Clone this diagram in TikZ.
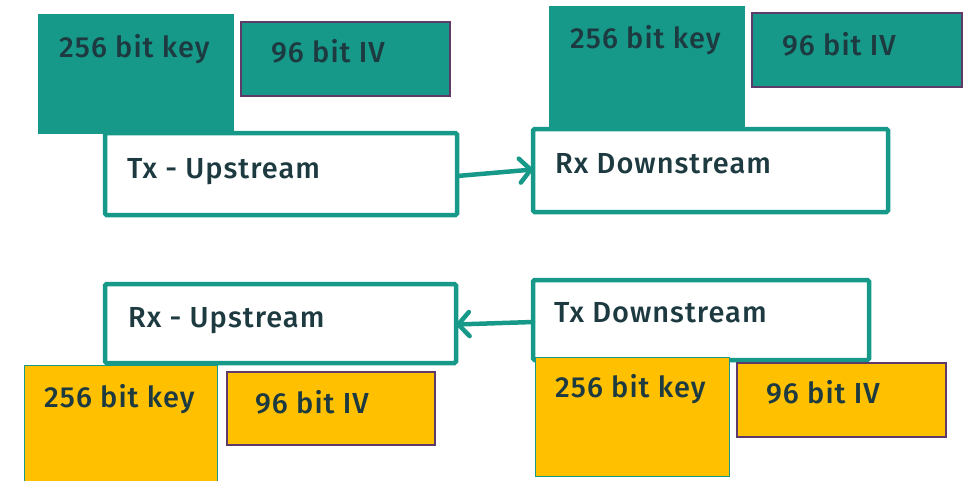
\documentclass[tikz,border=0pt]{standalone}
\usepackage{fontspec}
\setmainfont{Fira Sans}[UprightFont={* Medium}, LetterSpace=3.5]
\usetikzlibrary{arrows.meta}
\definecolor{teal1}{HTML}{17998A}
\definecolor{gold1}{HTML}{FFC000}
\definecolor{plum1}{HTML}{5E3A6A}
\definecolor{ink1}{HTML}{1D3A40}
\tikzset{
  box/.style={anchor=north west, inner sep=0pt, outer sep=0pt},
  keybox/.style={box, line width=1pt},
  ivbox/.style={box, draw=plum1, line width=1.2pt},
  endpoint/.style={box, draw=teal1, fill=white, line width=4.5pt, rounded corners=1.5pt},
  txt/.style={anchor=base west, inner sep=0pt, text=ink1, font=\fontsize{29}{32}\selectfont},
  flow/.style={draw=teal1, line width=4.5pt, line cap=round,
    -{Straight Barb[length=11pt, width=24pt, line cap=round, line join=round]}},
}
\begin{document}
\begin{tikzpicture}[x=1pt, y=-1pt]
\useasboundingbox (0,0) rectangle (967,480);

% upstream transmitter (top left)
\node[keybox, fill=teal1, minimum width=196pt, minimum height=120pt] (k1) at (38,14) {};
\node[ivbox, fill=teal1, minimum width=209pt, minimum height=74pt] (v1) at (241,22) {};
\node[endpoint, minimum width=352pt, minimum height=82pt] (txu) at (105,133) {};
\node[txt] (k1t) at (59,57) {256 bit key};
\node[txt] (v1t) at (271,62) {96 bit IV};
\node[txt] (txut) at (127,178) {Tx - Upstream};

% downstream receiver (top right)
\node[keybox, fill=teal1, minimum width=196pt, minimum height=121pt] (k2) at (549,6) {};
\node[ivbox, fill=teal1, minimum width=210pt, minimum height=74pt] (v2) at (752,13) {};
\node[endpoint, minimum width=355pt, minimum height=83pt] (rxd) at (533,129) {};
\node[txt] (k2t) at (570,48) {256 bit key};
\node[txt] (v2t) at (782,55) {96 bit IV};
\node[txt] (rxdt) at (555,173) {Rx Downstream};

% upstream receiver (bottom left)
\node[endpoint, minimum width=351pt, minimum height=79pt] (rxu) at (105,284) {};
\node[keybox, draw=teal1, fill=gold1, minimum width=193pt, minimum height=130pt] (k3) at (24,365) {};
\node[ivbox, fill=gold1, minimum width=208pt, minimum height=73pt] (v3) at (227,372) {};
\node[txt] (rxut) at (128,327) {Rx - Upstream};
\node[txt] (k3t) at (44,407) {256 bit key};
\node[txt] (v3t) at (255,413) {96 bit IV};

% downstream transmitter (bottom right)
\node[endpoint, minimum width=336pt, minimum height=80pt] (txd) at (533,280) {};
\node[keybox, draw=teal1, fill=gold1, minimum width=194pt, minimum height=119pt] (k4) at (535,357) {};
\node[ivbox, fill=gold1, minimum width=209pt, minimum height=74pt] (v4) at (737,363) {};
\node[txt] (txdt) at (554,322) {Tx Downstream};
\node[txt] (k4t) at (555,397) {256 bit key};
\node[txt] (v4t) at (766,403) {96 bit IV};

% key exchange directions
\draw[flow] ([yshift=-2pt]txu.east) -- ([yshift=1pt]rxd.west);
\draw[flow] ([yshift=-2pt]txd.west) -- ([yshift=-1pt]rxu.east);
\end{tikzpicture}
\end{document}
